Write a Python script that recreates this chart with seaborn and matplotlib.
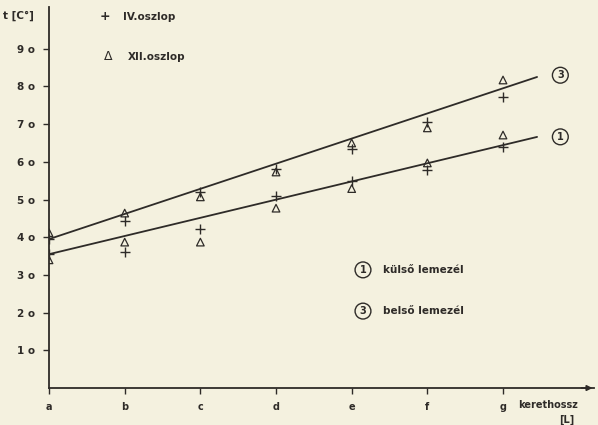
import matplotlib
matplotlib.use("Agg")
import matplotlib.pyplot as plt
import seaborn as sns
import pandas as pd
import numpy as np

# ---- data ----
categories = ["a", "b", "c", "d", "e", "f", "g"]
y_ticks = [10, 20, 30, 40, 50, 60, 70, 80, 90]
y_tick_labels = ["1 o", "2 o", "3 o", "4 o", "5 o", "6 o", "7 o", "8 o", "9 o"]

# upper group (3 - belső lemezél)
iv_upper = [39.5, 44.3, 52.0, 58.1, 63.4, 70.6, 77.2]
xii_upper = [41.2, 46.4, 50.7, 57.3, 65.0, 69.0, 81.7]
# lower group (1 - külső lemezél)
iv_lower = [35.5, 36.0, 42.2, 51.0, 54.9, 57.8, 64.0]
xii_lower = [34.0, 38.7, 38.7, 47.7, 52.9, 59.7, 67.1]

# fitted lines (start / end)
fit_x = [0.0, 6.45]
fit_upper = [39.5, 82.5]
fit_lower = [35.5, 66.6]

ink = "#2e2b28"
bg = "#f4f1df"

sns.set_theme(style="white")
plt.rcParams["font.family"] = ["DejaVu Sans"]

fig = plt.figure(figsize=(5.98, 4.25), dpi=100, facecolor=bg)
ax = fig.add_axes([0.082, 0.087, 0.911, 0.896])
ax.set_facecolor(bg)

xs = list(range(len(categories)))
df_iv = pd.DataFrame({"x": xs * 2, "y": iv_upper + iv_lower})
df_xii = pd.DataFrame({"x": xs * 2, "y": xii_upper + xii_lower})

sns.lineplot(x=fit_x, y=fit_upper, ax=ax, color=ink, lw=1.3)
sns.lineplot(x=fit_x, y=fit_lower, ax=ax, color=ink, lw=1.3)

sns.scatterplot(data=df_iv, x="x", y="y", ax=ax, marker="+", s=45,
                color=ink, linewidth=1.0, zorder=5)
sns.scatterplot(data=df_xii, x="x", y="y", ax=ax, marker="^", s=30,
                color=ink, linewidth=0.9, zorder=5)
tri = ax.collections[-1]
tri.set_facecolor("none")
tri.set_edgecolor(ink)

ax.set_xlim(0, 7.2)
ax.set_ylim(0, 101)
ax.set_xticks(xs)
ax.set_xticklabels(categories, fontsize=7, fontweight="bold", color=ink)
ax.set_yticks(y_ticks)
ax.set_yticklabels(y_tick_labels, fontsize=7.5, fontweight="bold", color=ink)
ax.tick_params(axis="both", direction="out", length=4, width=1, color=ink,
               bottom=True, left=True, pad=6)
ax.set_xlabel("")
ax.set_ylabel("")
for s in ["top", "right"]:
    ax.spines[s].set_visible(False)
for s in ["left", "bottom"]:
    ax.spines[s].set_color(ink)
    ax.spines[s].set_linewidth(1.3)

# arrow at end of x axis
ax.annotate("", xy=(7.22, 0), xytext=(7.0, 0), xycoords="data",
            arrowprops=dict(arrowstyle="-|>", color=ink, lw=1.2,
                            mutation_scale=8), annotation_clip=False)

# axis titles
fig.text(0.005, 0.962, "t [C°]", fontsize=7.5, fontweight="bold", color=ink,
         ha="left", va="center")
fig.text(0.866, 0.047, "kerethossz", fontsize=7, fontweight="bold", color=ink,
         ha="left", va="center")
fig.text(0.935, 0.012, "[L]", fontsize=7, fontweight="bold", color=ink,
         ha="left", va="center")

# top legend
fig.text(0.176, 0.960, "+", fontsize=9, fontweight="bold", color=ink,
         ha="center", va="center")
fig.text(0.205, 0.960, "IV.oszlop", fontsize=7.5, fontweight="bold", color=ink,
         ha="left", va="center")
fig.text(0.181, 0.866, "Δ", fontsize=9, color=ink, ha="center", va="center")
fig.text(0.213, 0.866, "XII.oszlop", fontsize=7.5, fontweight="bold", color=ink,
         ha="left", va="center")

# circled line labels
def circ(xf, yf, label):
    fig.text(xf, yf, label, fontsize=7, fontweight="bold", color=ink,
             ha="center", va="center",
             bbox=dict(boxstyle="circle,pad=0.3", fc="none", ec=ink, lw=1.0))

circ(0.937, 0.823, "3")
circ(0.937, 0.678, "1")

# bottom legend
circ(0.607, 0.365, "1")
fig.text(0.641, 0.365, "külső lemezél", fontsize=7.5, fontweight="bold",
         color=ink, ha="left", va="center")
circ(0.607, 0.268, "3")
fig.text(0.641, 0.268, "belső lemezél", fontsize=7.5, fontweight="bold",
         color=ink, ha="left", va="center")

fig.savefig("out.png", dpi=100, facecolor=bg)
